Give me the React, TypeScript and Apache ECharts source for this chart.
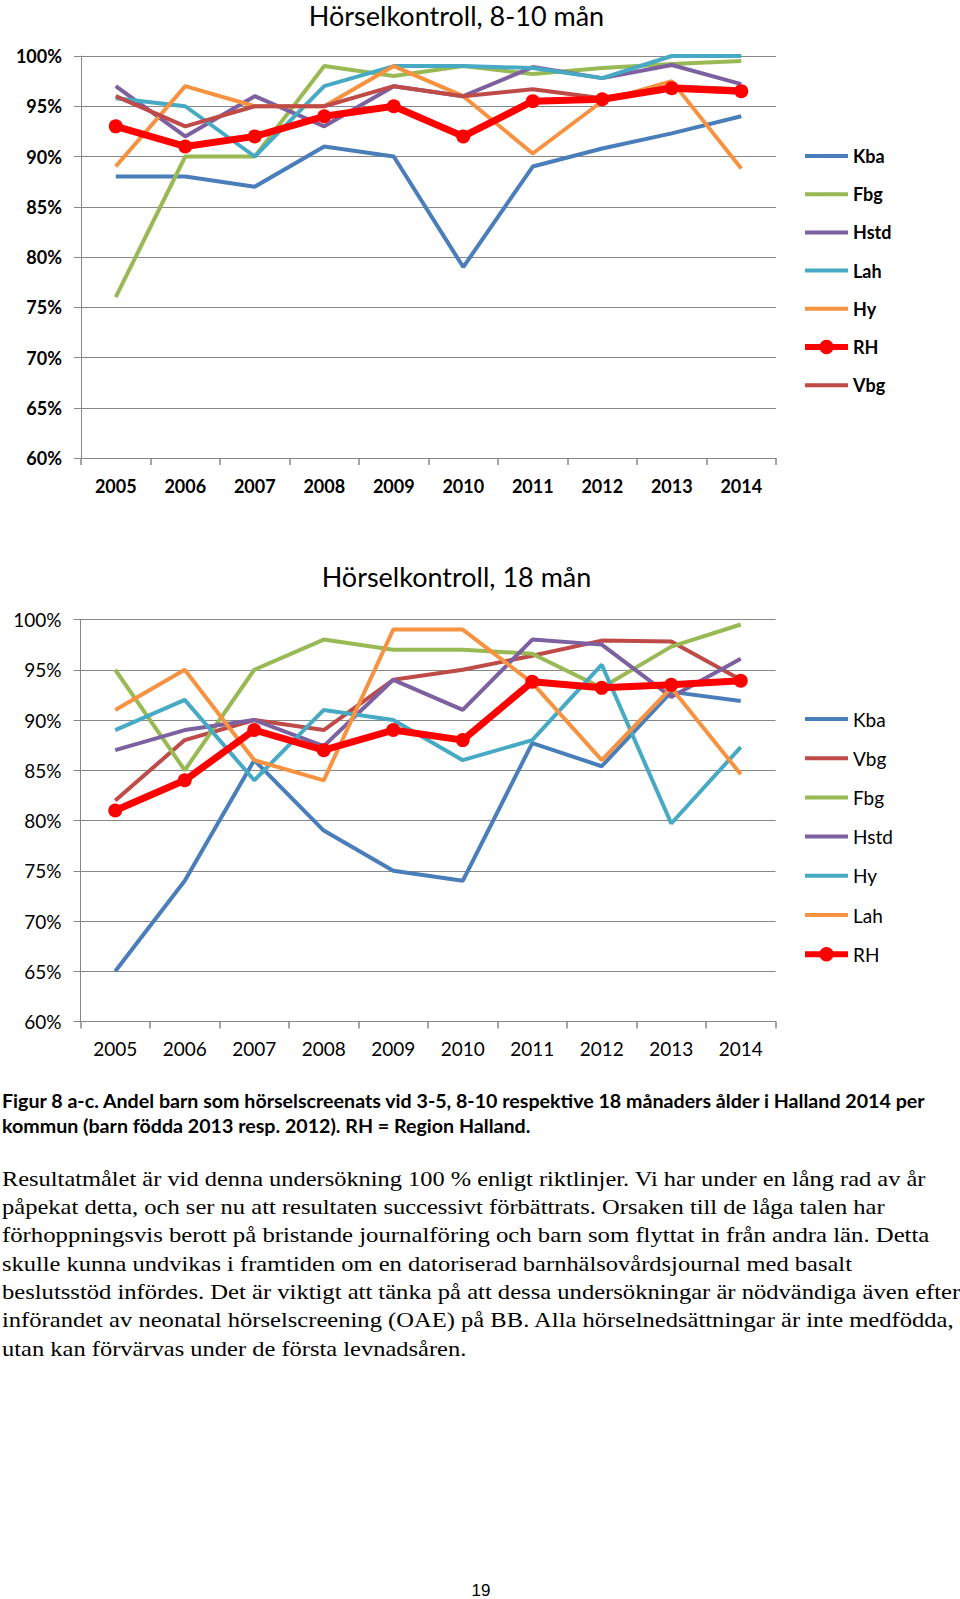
import React, { useEffect, useLayoutEffect, useRef } from "react";
import * as echarts from "echarts";

// ---------- DATA ----------
const years = ["2005", "2006", "2007", "2008", "2009", "2010", "2011", "2012", "2013", "2014"];
const yMin = 60;
const yMax = 100;
const yStep = 5;

// Chart A: Hörselkontroll, 8-10 mån
const titleA = "Hörselkontroll, 8-10 mån";
const kbaA = [88, 88, 87, 91, 90, 79, 89, 90.8, 92.3, 94];
const fbgA = [76, 90, 90, 99, 98, 99, 98.2, 98.8, 99.2, 99.5];
const hstdA = [97, 92, 96, 93, 97, 96, 98.9, 97.8, 99.1, 97.2];
const lahA = [95.8, 95, 90, 97, 99, 99, 98.8, 97.8, 100, 100];
const hyA = [89, 97, 95, 95, 99, 96, 90.3, 95.5, 97.5, 88.8];
const vbgA = [96, 93, 95, 95, 97, 96, 96.7, 95.8, 97, 96.7];
const rhA = [93, 91, 92, 94, 95, 92, 95.5, 95.7, 96.8, 96.5];
const legendOrderA = ["Kba", "Fbg", "Hstd", "Lah", "Hy", "RH", "Vbg"];

// Chart B: Hörselkontroll, 18 mån
const titleB = "Hörselkontroll, 18 mån";
const kbaB = [65, 74, 86, 79, 75, 74, 87.7, 85.4, 92.8, 91.9];
const vbgB = [82, 88, 90, 89, 94, 95, 96.4, 97.9, 97.8, 94];
const fbgB = [95, 85, 95, 98, 97, 97, 96.6, 93.2, 97.3, 99.5];
const hstdB = [87, 89, 90, 87.4, 94, 91, 98, 97.5, 92.3, 96.1];
const hyB = [89, 92, 84, 91, 90, 86, 88, 95.5, 79.7, 87.3];
const lahB = [91, 95, 86, 84, 99, 99, 93.7, 86, 93.2, 84.6];
const rhB = [81, 84, 89, 87, 89, 88, 93.8, 93.2, 93.5, 93.9];
const legendOrderB = ["Kba", "Vbg", "Fbg", "Hstd", "Hy", "Lah", "RH"];

const captionLines = [
  "Figur 8 a-c. Andel barn som hörselscreenats vid 3-5, 8-10 respektive 18 månaders ålder i Halland 2014 per",
  "kommun (barn födda 2013 resp. 2012). RH = Region Halland.",
];
const paragraphLines = [
  "Resultatmålet är vid denna undersökning 100 % enligt riktlinjer. Vi har under en lång rad av år",
  "påpekat detta, och ser nu att resultaten successivt förbättrats. Orsaken till de låga talen har",
  "förhoppningsvis berott på bristande journalföring och barn som flyttat in från andra län. Detta",
  "skulle kunna undvikas i framtiden om en datoriserad barnhälsovårdsjournal med basalt",
  "beslutsstöd infördes. Det är viktigt att tänka på att dessa undersökningar är nödvändiga även efter",
  "införandet av neonatal hörselscreening (OAE) på BB. Alla hörselnedsättningar är inte medfödda,",
  "utan kan förvärvas under de första levnadsåren.",
];
const pageNumber = "19";

// ---------- STYLE ----------
const C = {
  blue: "#4A7EBB",
  brown: "#BE4B48",
  green: "#98B954",
  purple: "#7D60A0",
  teal: "#46AAC5",
  orange: "#F69240",
  red: "#FF0000",
};
const GRID = "#878787";
const captionWidths = [923, 528];
const paragraphWidths = [923, 883, 927, 850, 958, 951, 464];

type S = { name: string; data: number[]; color: string };

const seriesA: S[] = [
  { name: "Kba", data: kbaA, color: C.blue },
  { name: "Fbg", data: fbgA, color: C.green },
  { name: "Hstd", data: hstdA, color: C.purple },
  { name: "Lah", data: lahA, color: C.teal },
  { name: "Hy", data: hyA, color: C.orange },
  { name: "Vbg", data: vbgA, color: C.brown },
  { name: "RH", data: rhA, color: C.red },
];
const seriesB: S[] = [
  { name: "Kba", data: kbaB, color: C.blue },
  { name: "Vbg", data: vbgB, color: C.brown },
  { name: "Fbg", data: fbgB, color: C.green },
  { name: "Hstd", data: hstdB, color: C.purple },
  { name: "Hy", data: hyB, color: C.teal },
  { name: "Lah", data: lahB, color: C.orange },
  { name: "RH", data: rhB, color: C.red },
];

function makeOption(p: {
  title: string;
  titleY: number;
  gridTop: number;
  gridLeft: number;
  series: S[];
  legendOrder: string[];
  legendTop: number;
  bold: boolean;
  fontSize: number;
  xMargin: number;
}) {
  const fw = p.bold ? "bold" : "normal";
  const font = { fontFamily: "Lato", fontSize: p.fontSize, fontWeight: fw, color: "#000" };
  return {
    animation: false,
    graphic: [
      {
        type: "text",
        x: 456.5,
        y: p.titleY,
        silent: true,
        style: {
          text: p.title,
          fill: "#000",
          font: "27px Lato",
          align: "center",
          verticalAlign: "middle",
          textAlign: "center",
          textVerticalAlign: "middle",
        },
      },
    ],
    grid: { left: p.gridLeft, top: p.gridTop, width: 695, height: 402, containLabel: false },
    legend: {
      orient: "vertical",
      left: 802,
      top: p.legendTop,
      padding: 0,
      itemWidth: 43,
      itemHeight: 18,
      itemGap: 20.2,
      selectedMode: false,
      lineStyle: { width: 6 },
      textStyle: { ...font },
      data: p.legendOrder.map((n) =>
        n === "RH" ? { name: n } : { name: n, icon: "path://M0 0H43V4H0Z" }
      ),
    },
    xAxis: {
      type: "category",
      data: years,
      boundaryGap: true,
      axisLine: { show: true, lineStyle: { color: GRID, width: 1 } },
      axisTick: { show: true, interval: 0, length: 7, lineStyle: { color: GRID, width: 1.5 } },
      axisLabel: { interval: 0, margin: p.xMargin, ...font },
      splitLine: { show: false },
    },
    yAxis: {
      type: "value",
      min: yMin,
      max: yMax,
      interval: yStep,
      axisLine: { show: true, lineStyle: { color: GRID, width: 1 } },
      axisTick: { show: true, length: 7, lineStyle: { color: GRID } },
      axisLabel: { formatter: "{value}%", margin: 19, ...font },
      splitLine: { show: true, lineStyle: { color: GRID, width: 1 } },
    },
    series: p.series.map((s) => {
      const isRH = s.name === "RH";
      return {
        type: "line",
        name: s.name,
        data: s.data,
        silent: true,
        symbol: isRH ? "circle" : "none",
        symbolSize: 14,
        showSymbol: isRH,
        lineStyle: { width: isRH ? 7 : 4, color: s.color },
        itemStyle: { color: s.color },
        z: isRH ? 4 : 2,
      };
    }),
  };
}

function EChart(props: { option: any; top: number; height: number }) {
  const ref = useRef<HTMLDivElement>(null);
  useEffect(() => {
    if (!ref.current) return;
    const chart = echarts.init(ref.current, undefined, { renderer: "svg", width: 960, height: props.height });
    chart.setOption(props.option);
    return () => chart.dispose();
  }, []);
  return (
    <div
      ref={ref}
      style={{ position: "absolute", left: 0, top: props.top, width: 960, height: props.height }}
    />
  );
}

function FitLine(props: { text: string; width: number; lineHeight: number; style: React.CSSProperties }) {
  const ref = useRef<HTMLSpanElement>(null);
  useLayoutEffect(() => {
    const el = ref.current;
    if (!el) return;
    const fit = () => {
      el.style.transform = "none";
      const w = el.offsetWidth;
      if (w > 0) el.style.transform = `scaleX(${props.width / w})`;
    };
    fit();
    const f: any = (document as any).fonts;
    if (f && f.ready) f.ready.then(fit);
  }, [props.text, props.width]);
  return (
    <div style={{ height: props.lineHeight, lineHeight: `${props.lineHeight}px`, whiteSpace: "nowrap" }}>
      <span ref={ref} style={{ display: "inline-block", transformOrigin: "0 0", ...props.style }}>
        {props.text}
      </span>
    </div>
  );
}

export default function App() {
  useEffect(() => {
    document.body.style.margin = "0";
  }, []);
  const optionA = makeOption({
    title: titleA,
    titleY: 15.8,
    gridTop: 56,
    gridLeft: 81,
    series: seriesA,
    legendOrder: legendOrderA,
    legendTop: 147,
    bold: true,
    fontSize: 18,
    xMargin: 18.7,
  });
  const optionB = makeOption({
    title: titleB,
    titleY: 46.3,
    gridTop: 89.5,
    gridLeft: 80.5,
    series: seriesB,
    legendOrder: legendOrderB,
    legendTop: 179.5,
    bold: false,
    fontSize: 19,
    xMargin: 17.5,
  });
  return (
    <div
      style={{
        position: "absolute",
        left: 0,
        top: 0,
        width: 960,
        height: 1599,
        overflow: "hidden",
        background: "#fff",
      }}
    >
      <EChart option={optionA} top={0} height={530} />
      <EChart option={optionB} top={530} height={540} />
      <div style={{ position: "absolute", left: 2, top: 1088.5 }}>
        {captionLines.map((t, i) => (
          <FitLine
            key={i}
            text={t}
            width={captionWidths[i]}
            lineHeight={25}
            style={{ fontFamily: "Lato", fontWeight: "bold", fontSize: 18, color: "#000" }}
          />
        ))}
      </div>
      <div style={{ position: "absolute", left: 2, top: 1164.7 }}>
        {paragraphLines.map((t, i) => (
          <FitLine
            key={i}
            text={t}
            width={paragraphWidths[i]}
            lineHeight={28.33}
            style={{ fontFamily: "'Liberation Serif'", fontSize: 21, color: "#000" }}
          />
        ))}
      </div>
      <div
        style={{
          position: "absolute",
          left: 0,
          width: 962,
          top: 1580.6,
          textAlign: "center",
          fontFamily: "'Liberation Sans'",
          fontSize: 17,
          lineHeight: "20px",
          color: "#000",
        }}
      >
        {pageNumber}
      </div>
    </div>
  );
}
